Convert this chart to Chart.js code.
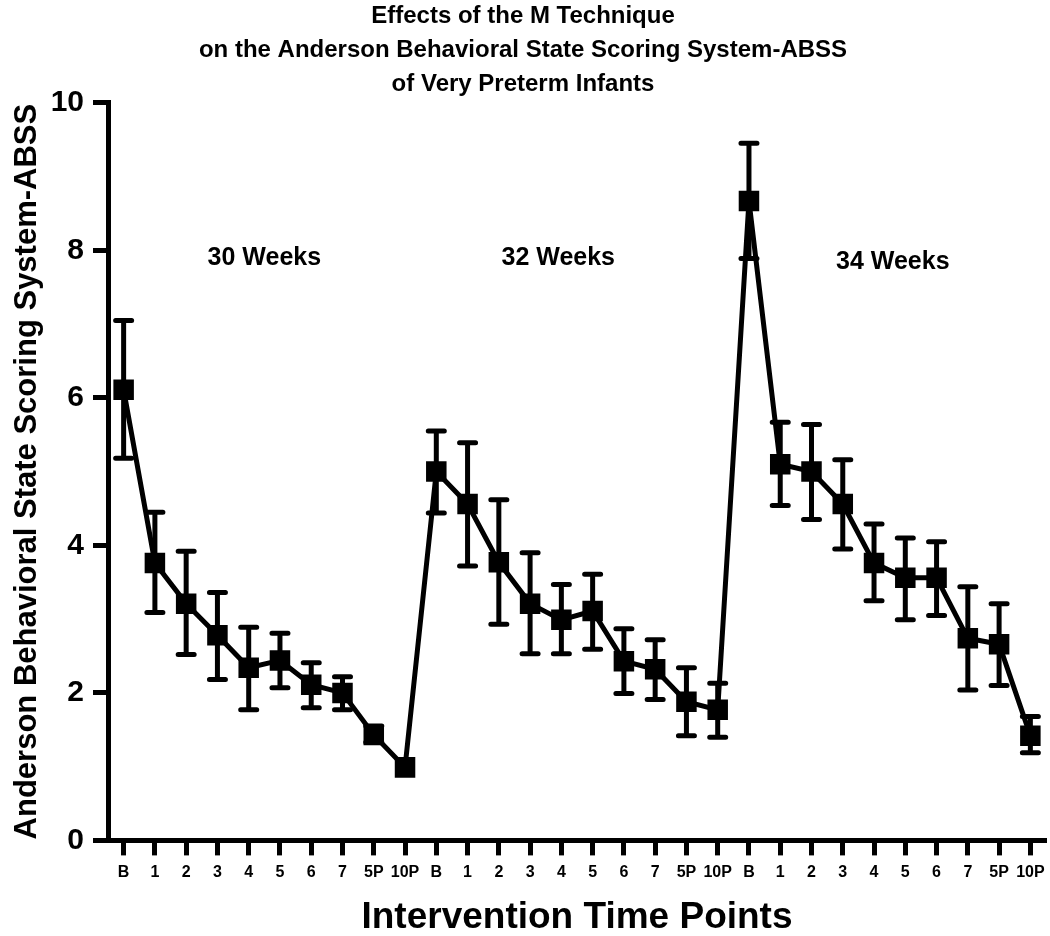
<!DOCTYPE html>
<html>
<head>
<meta charset="utf-8">
<title>ABSS</title>
<script src="https://cdn.jsdelivr.net/npm/chart.js@4.4.1/dist/chart.umd.min.js"></script>
<style>
  body { margin: 0; background: #fff; }
  #wrap { width: 1050px; height: 936px; }
</style>
</head>
<body>
<div id="wrap"><canvas id="chart"></canvas></div>
<script>
// time points, repeated for each age block
const timePoints = ['B', '1', '2', '3', '4', '5', '6', '7', '5P', '10P'];
const ages = ['30 Weeks', '32 Weeks', '34 Weeks'];

// mean ABSS
const mean30 = [6.11, 3.76, 3.21, 2.78, 2.34, 2.44, 2.11, 2.00, 1.43, 0.99];
const mean32 = [5.00, 4.56, 3.77, 3.21, 2.99, 3.11, 2.43, 2.32, 1.88, 1.77];
const mean34 = [8.67, 5.10, 5.00, 4.56, 3.76, 3.56, 3.56, 2.74, 2.66, 1.42];

// error bar ends (upper / lower)
const upper30 = [7.05, 4.45, 3.92, 3.36, 2.89, 2.81, 2.41, 2.22, 1.55, 1.00];
const lower30 = [5.18, 3.09, 2.52, 2.18, 1.77, 2.07, 1.80, 1.77, 1.33, 1.00];
const upper32 = [5.55, 5.39, 4.62, 3.90, 3.47, 3.61, 2.87, 2.72, 2.34, 2.13];
const lower32 = [4.44, 3.72, 2.93, 2.53, 2.53, 2.59, 1.99, 1.91, 1.42, 1.40];
const upper34 = [9.45, 5.67, 5.64, 5.16, 4.29, 4.10, 4.05, 3.44, 3.21, 1.68];
const lower34 = [7.89, 4.54, 4.35, 3.95, 3.25, 2.99, 3.05, 2.04, 2.10, 1.19];

const yTicks = [0, 2, 4, 6, 8, 10];

const labels = [...timePoints, ...timePoints, ...timePoints];
const means = [...mean30, ...mean32, ...mean34];
const uppers = [...upper30, ...upper32, ...upper34];
const lowers = [...lower30, ...lower32, ...lower34];

const FONT = "'Liberation Sans', Arial, Helvetica, sans-serif";

// vertical error bars with caps, drawn under the line and markers
const errorBars = {
  id: 'errorBars',
  beforeDatasetsDraw(chart) {
    const { ctx, scales: { x, y } } = chart;
    ctx.save();
    ctx.strokeStyle = '#000';
    ctx.lineWidth = 5;
    ctx.lineCap = 'round';
    means.forEach((m, i) => {
      const px = x.getPixelForValue(i);
      const top = y.getPixelForValue(uppers[i]);
      const bot = y.getPixelForValue(lowers[i]);
      if (Math.abs(bot - top) < 2) return;
      ctx.beginPath();
      ctx.moveTo(px, top);
      ctx.lineTo(px, bot);
      ctx.moveTo(px - 8, top);
      ctx.lineTo(px + 8, top);
      ctx.moveTo(px - 8, bot);
      ctx.lineTo(px + 8, bot);
      ctx.stroke();
    });
    ctx.restore();
  }
};

// "30 Weeks" etc. placed in data coordinates
const ageLabelPos = [[4.5, 7.9], [13.9, 7.9], [24.6, 7.84]];
const ageLabels = {
  id: 'ageLabels',
  afterDraw(chart) {
    const { ctx, scales: { x, y } } = chart;
    ctx.save();
    ctx.fillStyle = '#000';
    ctx.font = 'bold 25px ' + FONT;
    ctx.textAlign = 'center';
    ctx.textBaseline = 'middle';
    ages.forEach((txt, k) => {
      ctx.fillText(txt, x.getPixelForValue(ageLabelPos[k][0]), y.getPixelForValue(ageLabelPos[k][1]));
    });
    ctx.restore();
  }
};

new Chart(document.getElementById('chart'), {
  type: 'line',
  data: {
    labels,
    datasets: [{
      data: means,
      borderColor: '#000',
      borderWidth: 5,
      tension: 0,
      pointStyle: 'rect',
      pointRadius: 14.5,
      pointBackgroundColor: '#000',
      pointBorderWidth: 0
    }]
  },
  options: {
    responsive: true,
    maintainAspectRatio: false,
    animation: false,
    layout: { autoPadding: false, padding: { right: 4, bottom: 0 } },
    plugins: {
      legend: { display: false },
      tooltip: { enabled: false },
      title: {
        display: true,
        text: ['Effects of the M Technique',
               'on the Anderson Behavioral State Scoring System-ABSS',
               'of Very Preterm Infants'],
        color: '#000',
        font: { family: FONT, size: 24, weight: 'bold', lineHeight: 1.4 },
        padding: { top: 0, bottom: 2 }
      }
    },
    scales: {
      x: {
        offset: true,
        grid: { drawOnChartArea: false, tickLength: 15, tickWidth: 5, tickColor: '#000' },
        border: { color: '#000', width: 5 },
        ticks: {
          autoSkip: false, maxRotation: 0, color: '#000', padding: 0,
          font: { family: FONT, size: 16, weight: 'bold', lineHeight: 2.1 }
        },
        title: {
          display: true,
          text: 'Intervention Time Points',
          color: '#000',
          font: { family: FONT, size: 37, weight: 'bold', lineHeight: 1.0 },
          padding: { top: 10, bottom: 0 }
        }
      },
      y: {
        min: 0,
        max: 10,
        afterBuildTicks: (s) => { s.ticks = yTicks.map(v => ({ value: v })); },
        afterFit: (s) => { s.width = 108; },
        grid: { drawOnChartArea: false, tickLength: 15, tickWidth: 5, tickColor: '#000' },
        border: { color: '#000', width: 5 },
        ticks: {
          color: '#000', padding: 9,
          font: { family: FONT, size: 30, weight: 'bold' }
        },
        title: {
          display: true,
          text: 'Anderson Behavioral State Scoring System-ABSS',
          color: '#000',
          font: { family: FONT, size: 31, weight: 'bold' },
          padding: { top: 9, bottom: 0 }
        }
      }
    }
  },
  plugins: [errorBars, ageLabels]
});
</script>
</body>
</html>
